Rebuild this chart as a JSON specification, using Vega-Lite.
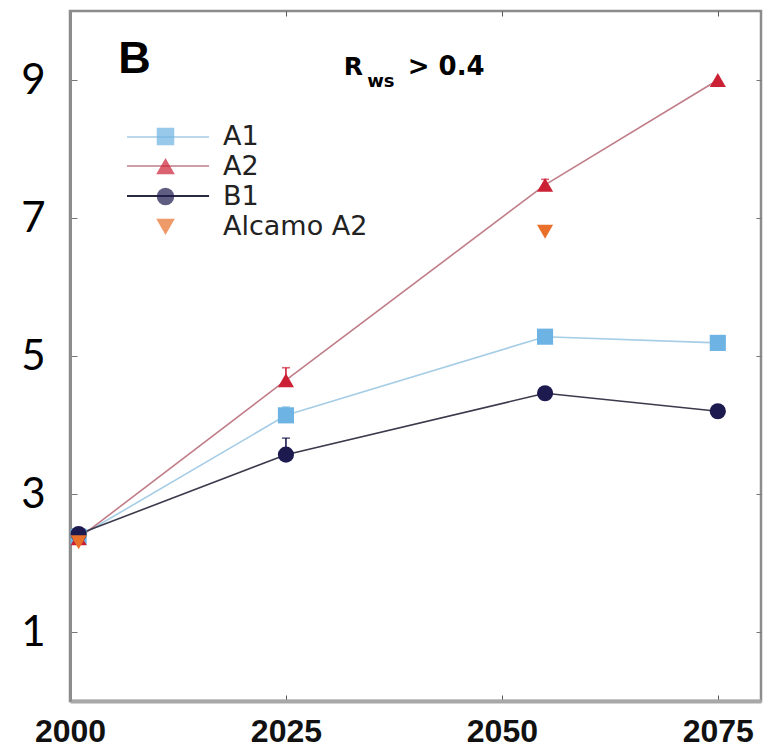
{
  "$schema": "https://vega.github.io/schema/vega-lite/v6.json",
  "width": 691,
  "height": 690,
  "autosize": {"type": "none"},
  "padding": {"left": 70, "top": 11, "right": 6, "bottom": 46},
  "background": "white",
  "config": {"view": {"stroke": "#8c8c8c", "strokeWidth": 2.5}, "axis": {"grid": false}},
  "datasets": {
    "pts": [
      {"year": 2001, "value": 2.38, "series": "A1"},
      {"year": 2025, "value": 4.14, "series": "A1"},
      {"year": 2055, "value": 5.28, "series": "A1"},
      {"year": 2075, "value": 5.19, "series": "A1"},
      {"year": 2001, "value": 2.36, "series": "A2"},
      {"year": 2025, "value": 4.65, "series": "A2"},
      {"year": 2055, "value": 7.48, "series": "A2"},
      {"year": 2075, "value": 9.0, "series": "A2"},
      {"year": 2001, "value": 2.42, "series": "B1"},
      {"year": 2025, "value": 3.57, "series": "B1"},
      {"year": 2055, "value": 4.46, "series": "B1"},
      {"year": 2075, "value": 4.2, "series": "B1"},
      {"year": 2001, "value": 2.3, "series": "Alcamo A2"},
      {"year": 2055, "value": 6.8, "series": "Alcamo A2"}
    ],
    "errs": [
      {"year": 2025, "value": 4.14, "hi": 4.26, "series": "A1"},
      {"year": 2025, "value": 4.65, "hi": 4.83, "series": "A2"},
      {"year": 2055, "value": 7.48, "hi": 7.56, "series": "A2"},
      {"year": 2025, "value": 3.57, "hi": 3.81, "series": "B1"}
    ]
  },
  "resolve": {"axis": {"x": "independent", "y": "independent"}},
  "layer": [
    {
      "layer": [
        {
          "data": {"name": "pts"},
          "transform": [{"filter": "datum.series !== 'Alcamo A2'"}],
          "mark": {"type": "line", "strokeWidth": 1.6},
          "encoding": {
            "x": {"field": "year", "type": "quantitative", "scale": {"domain": [2000, 2080], "nice": false, "zero": false},
              "axis": {"title": null, "values": [2000, 2025, 2050, 2075], "format": "d", "labelFont": "Liberation Sans", "labelFontWeight": "bold", "labelFontSize": 32, "labelColor": "#111", "labelPadding": 21, "tickSize": -6, "tickColor": "#555", "domainColor": "#a8a8a8", "domainWidth": 4, "labelFlush": false}},
            "y": {"field": "value", "type": "quantitative", "scale": {"domain": [0, 10], "nice": false},
              "axis": {"title": null, "values": [1, 3, 5, 7, 9], "format": "d", "labelFont": "Lato", "labelFontSize": 42, "labelColor": "#000", "labelPadding": 32, "tickSize": -7, "tickColor": "#777", "domainColor": "#8c8c8c", "domainWidth": 3, "labelFlush": false}},
            "stroke": {"field": "series", "type": "nominal", "scale": {"domain": ["A1", "A2", "B1"], "range": ["#a6cde6", "#c07d88", "#3a3a4c"]}, "legend": null},
            "detail": {"field": "series"}
          }
        },
        {
          "data": {"values": [{"k": "A1"}]},
          "mark": {"type": "rule", "strokeWidth": 1.6, "color": "#a6cde6"},
          "encoding": {
            "x": {"datum": 2006.6, "type": "quantitative"},
            "x2": {"datum": 2016.1},
            "y": {"datum": 8.174, "type": "quantitative"}
          }
        },
        {
          "data": {"values": [{"k": "A2"}]},
          "mark": {"type": "rule", "strokeWidth": 1.6, "color": "#c07d88"},
          "encoding": {
            "x": {"datum": 2006.6, "type": "quantitative"},
            "x2": {"datum": 2016.1},
            "y": {"datum": 7.754, "type": "quantitative"}
          }
        },
        {
          "data": {"values": [{"k": "B1"}]},
          "mark": {"type": "rule", "strokeWidth": 1.8, "color": "#2a2a3e"},
          "encoding": {
            "x": {"datum": 2006.6, "type": "quantitative"},
            "x2": {"datum": 2016.1},
            "y": {"datum": 7.319, "type": "quantitative"}
          }
        },
        {
          "data": {"name": "pts"},
          "mark": {"type": "point", "filled": true, "opacity": 1, "size": 260},
          "encoding": {
            "x": {"field": "year", "type": "quantitative"},
            "y": {"field": "value", "type": "quantitative"},
            "color": {"field": "series", "type": "nominal",
              "scale": {"domain": ["A1", "A2", "B1", "Alcamo A2"], "range": ["#6db3e3", "#cc2035", "#1c1a4e", "#e8702a"]},
              "legend": {"orient": "none", "legendX": 82, "legendY": 112, "title": null, "padding": 0, "symbolSize": 256, "symbolOpacity": 1, "labelOffset": 44, "labelFont": "DejaVu Sans", "labelFontSize": 27, "labelColor": "#222", "rowPadding": 2}},
            "shape": {"field": "series", "type": "nominal",
              "scale": {"domain": ["A1", "A2", "B1", "Alcamo A2"], "range": ["square", "triangle-up", "circle", "triangle-down"]},
              "legend": null}
          }
        },
        {
          "data": {"name": "errs"},
          "mark": {"type": "rule", "strokeWidth": 1.6},
          "encoding": {
            "x": {"field": "year", "type": "quantitative"},
            "y": {"field": "value", "type": "quantitative"},
            "y2": {"field": "hi"},
            "color": {"field": "series", "type": "nominal"}
          }
        },
        {
          "data": {"name": "errs"},
          "mark": {"type": "tick", "orient": "horizontal", "size": 8, "thickness": 1.6},
          "encoding": {
            "x": {"field": "year", "type": "quantitative"},
            "y": {"field": "hi", "type": "quantitative"},
            "color": {"field": "series", "type": "nominal"}
          }
        },
        {
          "data": {"values": [{"label": "B"}]},
          "mark": {"type": "text", "align": "left", "baseline": "alphabetic", "font": "Liberation Sans", "fontWeight": "bold", "fontSize": 45, "color": "#000"},
          "encoding": {
            "x": {"datum": 2005.6, "type": "quantitative"},
            "y": {"datum": 9.1, "type": "quantitative"},
            "text": {"field": "label"}
          }
        },
        {
          "data": {"values": [{"label": "R"}]},
          "mark": {"type": "text", "align": "left", "baseline": "alphabetic", "font": "DejaVu Sans", "fontWeight": "bold", "fontSize": 25, "color": "#000"},
          "encoding": {
            "x": {"datum": 2031.7, "type": "quantitative"},
            "y": {"datum": 9.07, "type": "quantitative"},
            "text": {"field": "label"}
          }
        },
        {
          "data": {"values": [{"label": "ws"}]},
          "mark": {"type": "text", "align": "left", "baseline": "alphabetic", "font": "DejaVu Sans", "fontWeight": "bold", "fontSize": 18, "color": "#000"},
          "encoding": {
            "x": {"datum": 2034.4, "type": "quantitative"},
            "y": {"datum": 8.9, "type": "quantitative"},
            "text": {"field": "label"}
          }
        },
        {
          "data": {"values": [{"label": "> 0.4"}]},
          "mark": {"type": "text", "align": "left", "baseline": "alphabetic", "font": "DejaVu Sans", "fontWeight": "bold", "fontSize": 26, "color": "#000"},
          "encoding": {
            "x": {"datum": 2039.1, "type": "quantitative"},
            "y": {"datum": 9.07, "type": "quantitative"},
            "text": {"field": "label"}
          }
        }
      ]
    },
    {
      "data": {"values": [{"k": 1}]},
      "mark": {"type": "point", "opacity": 0},
      "encoding": {
        "x": {"datum": 2000, "type": "quantitative", "axis": {"orient": "top", "labels": false, "domain": false, "title": null, "values": [2025, 2050, 2075], "tickSize": -5, "tickColor": "#555"}},
        "y": {"datum": 0, "type": "quantitative", "axis": {"orient": "right", "labels": false, "domain": false, "title": null, "values": [1, 3, 5, 7, 9], "tickSize": -5, "tickColor": "#777"}}
      }
    }
  ]
}
